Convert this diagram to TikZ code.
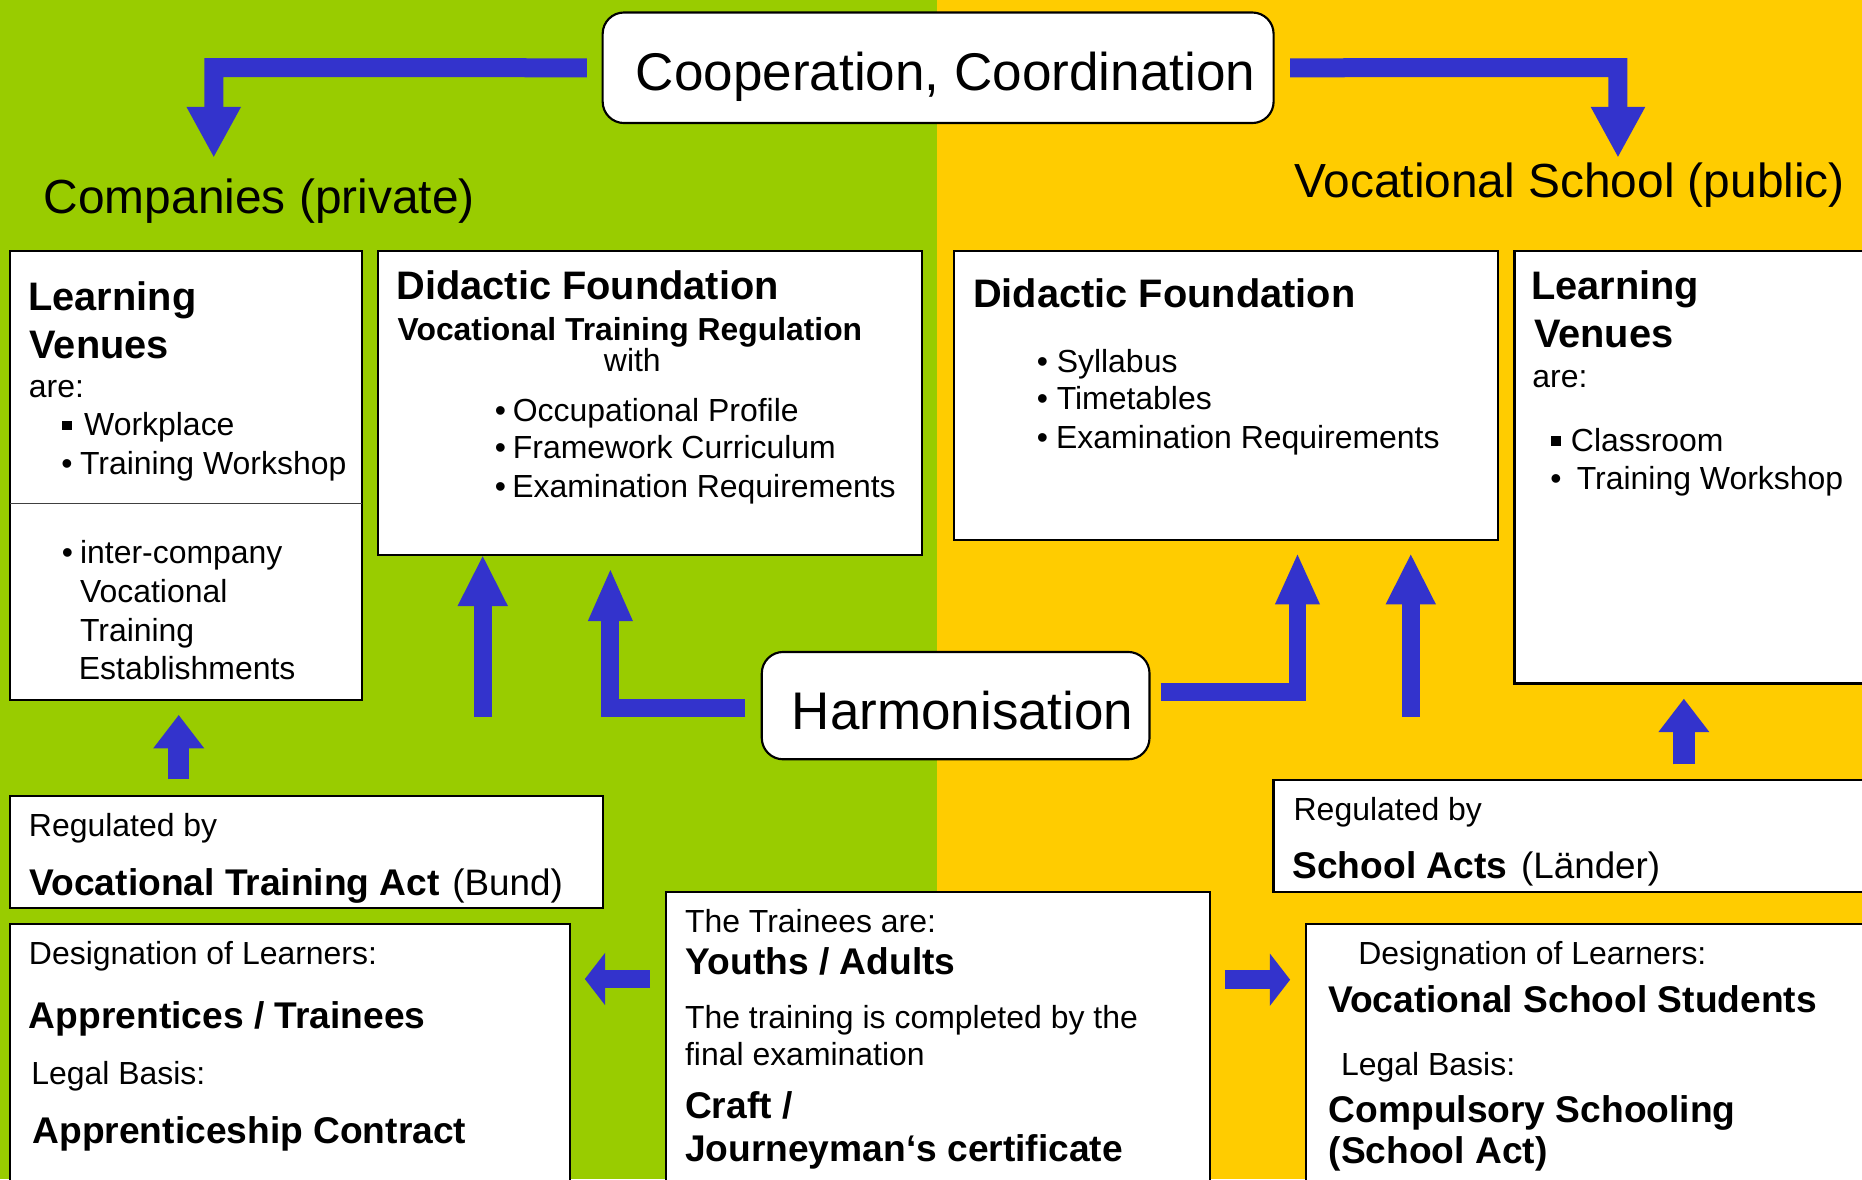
\documentclass[tikz,border=0pt]{standalone}
\usepackage{fontspec}
\setmainfont{Liberation Sans}
\usetikzlibrary{arrows.meta,fit}
\definecolor{bggreen}{RGB}{153,204,0}
\definecolor{bgyellow}{RGB}{255,204,0}
\definecolor{arrowblue}{RGB}{51,51,204}
\begin{document}
\begin{tikzpicture}[x=0.5pt,y=-0.5pt,
  box/.style={draw=black, line width=0.9pt, fill=white, inner sep=0pt},
  rbox/.style={box, rounded corners=9pt},
  txt/.style={inner sep=0pt, anchor=base west, font=\fontsize{13.45pt}{16pt}\selectfont},
  hd/.style={txt, font=\fontsize{16.75pt}{20pt}\selectfont\bfseries},
  vtr/.style={txt, font=\fontsize{13.4pt}{16pt}\selectfont\bfseries},
  sb/.style={txt, font=\fontsize{15.65pt}{18pt}\selectfont\bfseries},
  ttl/.style={txt, font=\fontsize{20.15pt}{24pt}\selectfont},
  sq/.style={fill=black, inner sep=0pt, minimum size=4.2pt},
  blk/.style={draw=arrowblue, line join=miter, line cap=butt},
]
\clip (0,0) rectangle (1568,993);
\fill[bggreen] (0,0) rectangle (789,993);
\fill[bgyellow] (789,0) rectangle (1568,993);

% ---------- boxes ----------
\node[rbox, fit={(507.5,10.5)(1072.5,103.6)}] (coop) {};
\node[rbox, fit={(641.5,549)(968,639.4)}] (harm) {};
\node[box, fit={(8.5,211.5)(305,589.5)}] (lvl) {};
\node[box, fit={(318.5,211.7)(776.5,467.5)}] (dfl) {};
\node[box, fit={(803,211.7)(1261.5,454.7)}] (dfr) {};
\node[box, fit={(1275.4,211.7)(1580,575.6)}] (lvr) {};
\node[box, fit={(8.5,670.3)(507.5,764.7)}] (rgl) {};
\node[box, fit={(1072.4,656.7)(1580,751.4)}] (rgr) {};
\node[box, fit={(8.5,778)(480,1005)}] (dsl) {};
\node[box, fit={(561,751.4)(1019,1005)}] (trn) {};
\node[box, fit={(1099.9,778)(1580,1005)}] (dsr) {};
\coordinate (dvl) at (8.5,424);
\coordinate (dvr) at (305,424);
\draw[line width=0.6pt, black!75] (dvl) -- (dvr);

% ---------- titles ----------
\node[ttl, font=\fontsize{22.35pt}{26pt}\selectfont] (cooptxt) at (535,76) {Cooperation, Coordination};
\node[ttl, font=\fontsize{22.3pt}{26pt}\selectfont] (harmtxt) at (666.5,614) {Harmonisation};
\node[ttl] (comp) at (36.5,180) {Companies (private)};
\node[ttl] (vsch) at (1089.5,166.3) {Vocational School (public)};

% ---------- learning venues left ----------
\node[hd] (lvl1) at (23.5,261.6) {Learning};
\node[hd] (lvl2) at (24.5,302) {Venues};
\node[txt] (lvl3) at (24,335) {are:};
\node[sq] (lvlsq) at (56.8,358.3) {};
\node[txt] (lvl4) at (70.5,367) {Workplace};
\node[txt] (lvlb1) at (51.3,399.5) {•};
\node[txt] (lvl5) at (67,399.5) {Training Workshop};
\node[txt] (lvlb2) at (51.6,474.9) {•};
\node[txt] (lvl6) at (67,474.9) {inter-company};
\node[txt] (lvl7) at (67,507.4) {Vocational};
\node[txt] (lvl8) at (67,540.3) {Training};
\node[txt] (lvl9) at (66,572) {Establishments};

% ---------- didactic foundation left ----------
\node[hd] (dfl1) at (333.5,252.6) {Didactic Foundation};
\node[vtr] (dfl2) at (334.5,287) {Vocational Training Regulation};
\node[txt, anchor=base] (dfl3) at (532.5,312.7) {with};
\node[txt] (dflb1) at (416.3,354.8) {•};
\node[txt] (dfl4) at (431.5,354.8) {Occupational Profile};
\node[txt] (dflb2) at (416.3,386.4) {•};
\node[txt] (dfl5) at (431.5,386.4) {Framework Curriculum};
\node[txt] (dflb3) at (416.3,418.6) {•};
\node[txt] (dfl6) at (431,418.6) {Examination Requirements};

% ---------- didactic foundation right ----------
\node[hd] (dfr1) at (819,259.2) {Didactic Foundation};
\node[txt] (dfrb1) at (872.8,313.4) {•};
\node[txt] (dfr2) at (889.5,313.4) {Syllabus};
\node[txt] (dfrb2) at (872.8,345.2) {•};
\node[txt] (dfr3) at (889.5,345.2) {Timetables};
\node[txt] (dfrb3) at (872.8,377.4) {•};
\node[txt] (dfr4) at (889,377.4) {Examination Requirements};

% ---------- learning venues right ----------
\node[hd] (lvr1) at (1289,252.6) {Learning};
\node[hd] (lvr2) at (1291.5,293) {Venues};
\node[txt] (lvr3) at (1290,326.3) {are:};
\node[sq] (lvrsq) at (1310,371) {};
\node[txt] (lvr4) at (1322.5,380.4) {Classroom};
\node[txt] (lvrb1) at (1305.2,412) {•};
\node[txt] (lvr5) at (1327.5,412) {Training Workshop};

% ---------- regulated ----------
\node[txt] (rgl1) at (24,704.2) {Regulated by};
\node[sb] (rgl2) at (24.5,754) {Vocational Training Act};
\node[txt, font=\fontsize{15.5pt}{18pt}\selectfont] (rgl3) at (380.5,754) {(Bund)};
\node[txt] (rgr1) at (1089,691) {Regulated by};
\node[sb] (rgr2) at (1088,740.1) {School Acts};
\node[txt, font=\fontsize{15.5pt}{18pt}\selectfont] (rgr3) at (1280.5,740.1) {(Länder)};

% ---------- designation left ----------
\node[txt] (dsl1) at (24,812.3) {Designation of Learners:};
\node[sb] (dsl2) at (24,866.1) {Apprentices / Trainees};
\node[txt] (dsl3) at (26,913.6) {Legal Basis:};
\node[sb] (dsl4) at (27,962.8) {Apprenticeship Contract};

% ---------- trainees ----------
\node[txt] (trn1) at (576.5,785) {The Trainees are:};
\node[sb] (trn2) at (577,820.5) {Youths / Adults};
\node[txt] (trn3) at (576.5,866.1) {The training is completed by the};
\node[txt] (trn4) at (576.5,897.6) {final examination};
\node[sb] (trn5) at (576.5,941.9) {Craft /};
\node[sb] (trn6) at (576.5,978.4) {Journeyman‘s certificate};

% ---------- designation right ----------
\node[txt] (dsr1) at (1143.5,812.3) {Designation of Learners:};
\node[sb] (dsr2) at (1118,852.2) {Vocational School Students};
\node[txt] (dsr3) at (1129,906) {Legal Basis:};
\node[sb] (dsr4) at (1118.5,945.2) {Compulsory Schooling};
\node[sb] (dsr5) at (1118.5,980) {(School Act)};

% ---------- arrows ----------
\coordinate (a1c) at (180,57);
\coordinate (a1e) at (180,132);
\draw[blk, line width=8pt, -{Triangle[width=23pt,length=21pt,line width=0pt]}]
  ([xshift=-6.25pt]coop.west) -- (a1c) -- (a1e);
\coordinate (a2c) at (1362.5,57);
\coordinate (a2e) at (1362.5,132);
\draw[blk, line width=8pt, -{Triangle[width=23pt,length=21pt,line width=0pt]}]
  ([xshift=6.5pt]coop.east) -- (a2c) -- (a2e);

\coordinate (aAs) at (406.5,603.5);
\draw[blk, line width=7.75pt, -{Triangle[width=21.25pt,length=21pt,line width=0pt]}]
  (aAs) -- (aAs |- dfl.south);
\coordinate (aBs) at (627.5,596);
\coordinate (aBc) at (514,596);
\coordinate (aBe) at (514,480);
\draw[blk, line width=7.5pt, -{Triangle[width=19pt,length=21.5pt,line width=0pt]}]
  (aBs) -- (aBc) -- (aBe);
\coordinate (aDs) at (977.4,582.5);
\coordinate (aDc) at (1092.6,582.5);
\coordinate (aDe) at (1092.6,467);
\draw[blk, line width=7.5pt, -{Triangle[width=19pt,length=21pt,line width=0pt]}]
  (aDs) -- (aDc) -- (aDe);
\coordinate (aEs) at (1188,603.5);
\coordinate (aEe) at (1188,467);
\draw[blk, line width=7.75pt, -{Triangle[width=21.25pt,length=21pt,line width=0pt]}]
  (aEs) -- (aEe);

\coordinate (aFe) at (150.5,602.2);
\draw[blk, line width=9pt, -{Triangle[width=21.5pt,length=14pt,line width=0pt]}]
  (rgl.north -| aFe) ++(0,-13.3) -- (aFe);
\coordinate (aGs) at (1418,643.7);
\coordinate (aGe) at (1418,588.5);
\draw[blk, line width=9pt, -{Triangle[width=21.5pt,length=14pt,line width=0pt]}]
  (aGs) -- (aGe);

\coordinate (aHs) at (547.5,824.4);
\coordinate (aHe) at (492.5,824.4);
\draw[blk, line width=7.8pt, -{Triangle[width=22pt,length=8.5pt,line width=0pt]}]
  (aHs) -- (aHe);
\coordinate (aIs) at (1031.5,825);
\coordinate (aIe) at (1086.4,825);
\draw[blk, line width=7.8pt, -{Triangle[width=22pt,length=8.5pt,line width=0pt]}]
  (aIs) -- (aIe);
\end{tikzpicture}
\end{document}
